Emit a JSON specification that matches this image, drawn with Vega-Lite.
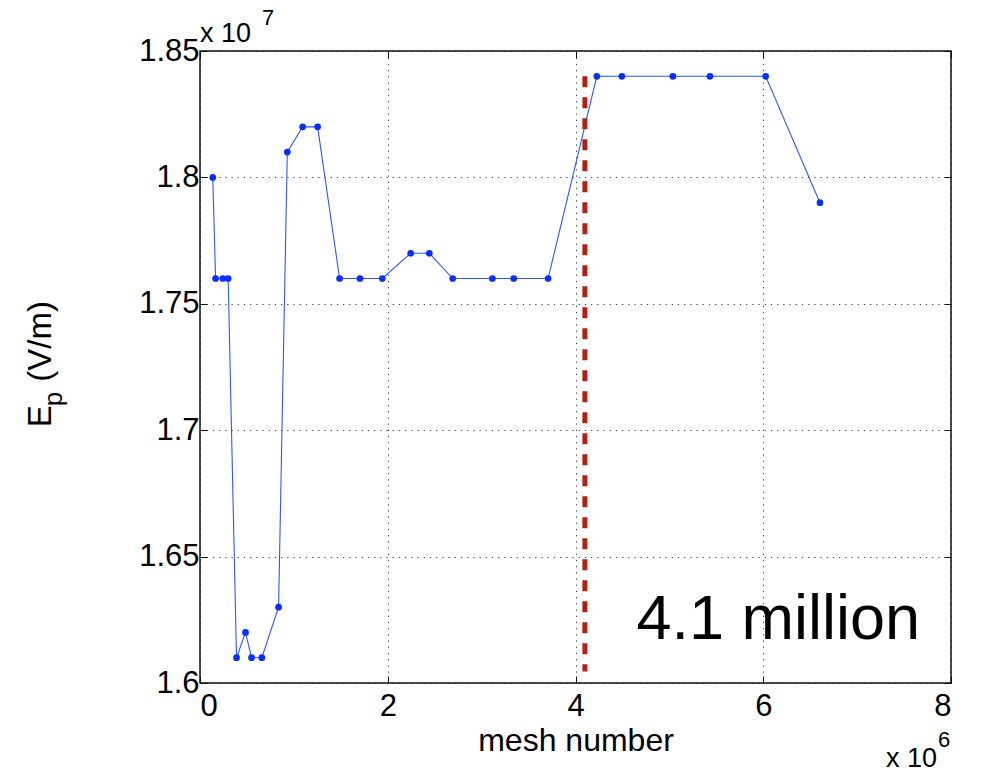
{
  "$schema": "https://vega.github.io/schema/vega-lite/v6.json",
  "width": 751,
  "height": 632,
  "autosize": {"type": "none"},
  "padding": {"left": 200, "top": 51, "right": 33, "bottom": 101},
  "background": "white",
  "config": {
    "font": "Liberation Sans",
    "view": {"stroke": "#111111", "strokeWidth": 1.5},
    "axis": {
      "domain": false,
      "labelFont": "Liberation Sans",
      "labelFontSize": 31,
      "labelColor": "#000000",
      "titleFont": "Liberation Sans",
      "titleFontSize": 32,
      "titleFontWeight": "normal",
      "titleColor": "#000000",
      "tickColor": "#111111",
      "tickWidth": 1,
      "tickSize": -7,
      "gridColor": "#222222",
      "gridDash": [1.2, 5],
      "gridWidth": 1,
      "gridOpacity": 0.9
    },
    "text": {"font": "Liberation Sans", "color": "#000000"}
  },
  "datasets": {
    "convergence": [
      {"mesh": 136000, "Ep": 18000000},
      {"mesh": 166000, "Ep": 17600000},
      {"mesh": 243000, "Ep": 17600000},
      {"mesh": 300000, "Ep": 17600000},
      {"mesh": 389000, "Ep": 16100000},
      {"mesh": 485000, "Ep": 16200000},
      {"mesh": 549000, "Ep": 16100000},
      {"mesh": 659000, "Ep": 16100000},
      {"mesh": 837000, "Ep": 16300000},
      {"mesh": 930000, "Ep": 18100000},
      {"mesh": 1093000, "Ep": 18200000},
      {"mesh": 1253000, "Ep": 18200000},
      {"mesh": 1487000, "Ep": 17600000},
      {"mesh": 1704000, "Ep": 17600000},
      {"mesh": 1942000, "Ep": 17600000},
      {"mesh": 2244000, "Ep": 17700000},
      {"mesh": 2443000, "Ep": 17700000},
      {"mesh": 2692000, "Ep": 17600000},
      {"mesh": 3115000, "Ep": 17600000},
      {"mesh": 3342000, "Ep": 17600000},
      {"mesh": 3708000, "Ep": 17600000},
      {"mesh": 4227000, "Ep": 18400000},
      {"mesh": 4494000, "Ep": 18400000},
      {"mesh": 5037000, "Ep": 18400000},
      {"mesh": 5432000, "Ep": 18400000},
      {"mesh": 6026000, "Ep": 18400000},
      {"mesh": 6604000, "Ep": 17900000}
    ],
    "chosen": [
      {"mesh": 4100000, "Ep_low": 16045000, "Ep_high": 18400000, "label": "4.1 million", "label_mesh": 6160000, "label_Ep": 16250000}
    ],
    "yTitle": [
      {"mesh": 0, "Ep": 17000000, "E": "E", "sub": "p", "unit": "(V/m)"}
    ]
  },
  "layer": [
    {
      "data": {"name": "convergence"},
      "mark": {"type": "line", "color": "#2f55ff", "strokeWidth": 1.1},
      "encoding": {
        "x": {
          "field": "mesh",
          "type": "quantitative",
          "scale": {"domain": [0, 8000000], "nice": false, "zero": false},
          "axis": {
            "orient": "bottom",
            "title": "mesh number",
            "values": [0, 2000000, 4000000, 6000000, 8000000],
            "labelExpr": "format(datum.value / 1000000, '~g')",
            "labelPadding": 15,
            "titlePadding": 4,
            "grid": true
          }
        },
        "y": {
          "field": "Ep",
          "type": "quantitative",
          "scale": {"domain": [16000000, 18500000], "nice": false, "zero": false},
          "axis": {
            "orient": "left",
            "title": null,
            "values": [16000000, 16500000, 17000000, 17500000, 18000000, 18500000],
            "labelExpr": "format(datum.value / 10000000, '.3~g')",
            "labelPadding": 8,
            "grid": true
          }
        }
      }
    },
    {
      "data": {"name": "convergence"},
      "mark": {"type": "point", "filled": true, "color": "#0a2dff", "size": 45, "opacity": 1},
      "encoding": {
        "x": {"field": "mesh", "type": "quantitative", "axis": {"orient": "top", "labels": false, "title": null, "grid": false, "values": [0, 2000000, 4000000, 6000000, 8000000]}},
        "y": {"field": "Ep", "type": "quantitative", "axis": {"orient": "right", "labels": false, "title": null, "grid": false, "values": [16000000, 16500000, 17000000, 17500000, 18000000, 18500000]}}
      }
    },
    {
      "data": {"name": "chosen"},
      "mark": {"type": "rule", "color": "#b3200f", "strokeWidth": 5, "strokeDash": [11, 10]},
      "encoding": {
        "x": {"field": "mesh", "type": "quantitative", "axis": null},
        "y": {"field": "Ep_high", "type": "quantitative", "axis": null},
        "y2": {"field": "Ep_low"}
      }
    },
    {
      "data": {"name": "chosen"},
      "mark": {"type": "text", "fontSize": 63, "align": "center", "baseline": "middle"},
      "encoding": {
        "x": {"field": "label_mesh", "type": "quantitative", "axis": null},
        "y": {"field": "label_Ep", "type": "quantitative", "axis": null},
        "text": {"field": "label"}
      }
    },
    {
      "data": {"name": "yTitle"},
      "mark": {"type": "text", "fontSize": 33, "angle": 270, "align": "left", "baseline": "alphabetic", "dx": 3, "dy": -149.5},
      "encoding": {
        "x": {"field": "mesh", "type": "quantitative", "axis": null},
        "y": {"field": "Ep", "type": "quantitative", "axis": null},
        "text": {"field": "E"}
      }
    },
    {
      "data": {"name": "yTitle"},
      "mark": {"type": "text", "fontSize": 26, "angle": 270, "align": "left", "baseline": "alphabetic", "dx": 24, "dy": -138},
      "encoding": {
        "x": {"field": "mesh", "type": "quantitative", "axis": null},
        "y": {"field": "Ep", "type": "quantitative", "axis": null},
        "text": {"field": "sub"}
      }
    },
    {
      "data": {"name": "yTitle"},
      "mark": {"type": "text", "fontSize": 33, "angle": 270, "align": "left", "baseline": "alphabetic", "dx": 48.5, "dy": -149.5},
      "encoding": {
        "x": {"field": "mesh", "type": "quantitative", "axis": null},
        "y": {"field": "Ep", "type": "quantitative", "axis": null},
        "text": {"field": "unit"}
      }
    },
    {
      "data": {"values": [{"mesh": 0, "Ep": 18500000, "t": "x 10"}]},
      "mark": {"type": "text", "fontSize": 27, "align": "left", "baseline": "alphabetic", "dy": -9},
      "encoding": {
        "x": {"field": "mesh", "type": "quantitative", "axis": null},
        "y": {"field": "Ep", "type": "quantitative", "axis": null},
        "text": {"field": "t"}
      }
    },
    {
      "data": {"values": [{"mesh": 0, "Ep": 18500000, "t": "7"}]},
      "mark": {"type": "text", "fontSize": 22, "align": "left", "baseline": "alphabetic", "dx": 62, "dy": -26},
      "encoding": {
        "x": {"field": "mesh", "type": "quantitative", "axis": null},
        "y": {"field": "Ep", "type": "quantitative", "axis": null},
        "text": {"field": "t"}
      }
    },
    {
      "data": {"values": [{"mesh": 8000000, "Ep": 16000000, "t": "x 10"}]},
      "mark": {"type": "text", "fontSize": 27, "align": "right", "baseline": "alphabetic", "dx": -14, "dy": 84},
      "encoding": {
        "x": {"field": "mesh", "type": "quantitative", "axis": null},
        "y": {"field": "Ep", "type": "quantitative", "axis": null},
        "text": {"field": "t"}
      }
    },
    {
      "data": {"values": [{"mesh": 8000000, "Ep": 16000000, "t": "6"}]},
      "mark": {"type": "text", "fontSize": 22, "align": "left", "baseline": "alphabetic", "dx": -13, "dy": 64},
      "encoding": {
        "x": {"field": "mesh", "type": "quantitative", "axis": null},
        "y": {"field": "Ep", "type": "quantitative", "axis": null},
        "text": {"field": "t"}
      }
    }
  ],
  "resolve": {"axis": {"x": "independent", "y": "independent"}}
}
